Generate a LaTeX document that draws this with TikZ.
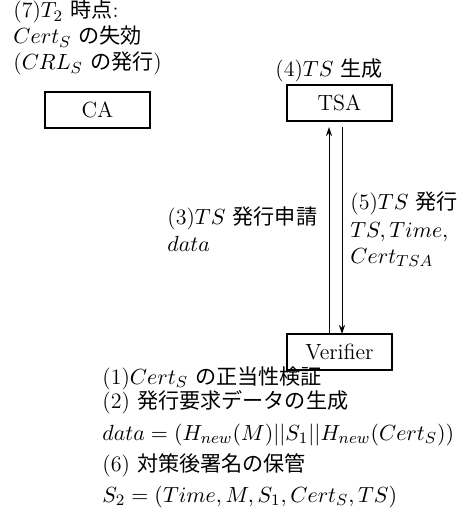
\documentclass[tikz,border=0pt]{standalone}
\usepackage{fontspec}
\newfontfamily\jp[Scale=0.96]{Noto Sans CJK JP}
\usetikzlibrary{arrows.meta}
\begin{document}
\begin{tikzpicture}[x=0.5pt,y=-0.5pt,
  box/.style={draw,line width=0.6pt,minimum width=52.5pt,minimum height=18pt,inner sep=0pt,font=\fontsize{11}{13}\selectfont},
  txt/.style={anchor=base west,inner sep=0pt,font=\fontsize{11}{13}\selectfont},
  arr/.style={line width=0.5pt,-{Stealth[length=4.5pt,width=3pt]}}]
\useasboundingbox (0,0) rectangle (467,513);
\node[txt] (t7a) at (13,18) {(7)$T_2$ {\jp 時点}:};
\node[txt] (t7b) at (13,44) {$Cert_S$ {\jp の失効}};
\node[txt] (t7c) at (13,70) {($CRL_S$ {\jp の発行})};
\node[box] (ca) at (97.5,110) {CA};
\node[txt] (t4) at (275,77) {(4)$TS$ {\jp 生成}};
\node[box] (tsa) at (339.5,103) {TSA};
\node[box] (ver) at (339.5,352) {Verifier};
\coordinate (upS) at (329,334);
\coordinate (upE) at (329,127);
\coordinate (dnS) at (342,127);
\coordinate (dnE) at (342,334);
\draw[arr] (upS) -- (upE);
\draw[arr] (dnS) -- (dnE);
\node[txt] (t3a) at (167,224) {(3)$TS$ {\jp 発行申請}};
\node[txt] (t3b) at (167,251) {$data$};
\node[txt] (t5a) at (350,209) {(5)$TS$ {\jp 発行}};
\node[txt] (t5b) at (350,237) {$TS, Time,$};
\node[txt] (t5c) at (350,263) {$Cert_{TSA}$};
\node[txt] (b1) at (102,384) {(1)$Cert_S$ {\jp の正当性検証}};
\node[txt] (b2) at (102,408) {(2) {\jp 発行要求データの生成}};
\node[txt] (b3) at (102,440) {$data = (H_{new}(M)||S_1||H_{new}(Cert_S))$};
\node[txt] (b4) at (102,471) {(6) {\jp 対策後署名の保管}};
\node[txt] (b5) at (102,502) {$S_2 = (Time, M, S_1, Cert_S, TS)$};
\end{tikzpicture}
\end{document}
